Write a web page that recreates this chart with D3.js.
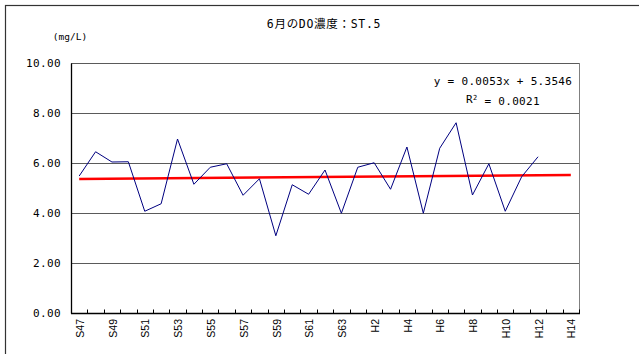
<!DOCTYPE html>
<html><head><meta charset="utf-8">
<script src="https://cdn.jsdelivr.net/npm/d3@7"></script>
<style>
html,body{margin:0;padding:0;background:#fff;}
svg{display:block;}
</style></head>
<body>
<svg id="chart" width="639" height="354"></svg>
<script>
const title = "6月のDO濃度：ST.5";
const unitLabel = "(mg/L)";
const categories = ["S47","S48","S49","S50","S51","S52","S53","S54","S55","S56","S57","S58","S59","S60","S61","S62","S63",
  "H1","H2","H3","H4","H5","H6","H7","H8","H9","H10","H11","H12","H13","H14"];
const tickLabels = ["S47","S49","S51","S53","S55","S57","S59","S61","S63","H2","H4","H6","H8","H10","H12","H14"];
const doValues = [5.48,6.45,6.04,6.05,4.07,4.37,6.96,5.15,5.83,5.97,4.71,5.37,3.09,5.13,4.75,5.72,3.99,
  5.83,6.01,4.95,6.64,3.99,6.59,7.61,4.72,5.97,4.07,5.45,6.25];
const yTicks = [0,2,4,6,8,10];
const trendSlope = 0.0053;
const trendIntercept = 5.3546;
const trendR2 = 0.0021;

const svg = d3.select("#chart");
const L = 71, R = 579, T = 63, B = 313;

// outer chart border
svg.append("rect").attr("x",5.5).attr("y",5.5).attr("width",700).attr("height",400)
  .attr("fill","none").attr("stroke","#333").attr("stroke-width",1.2);

const x = d3.scaleBand().domain(categories).range([L,R]).paddingInner(0).paddingOuter(0);
const y = d3.scaleLinear().domain([0,10]).range([B,T]);
const cx = c => x(c) + x.bandwidth()/2;

// gridlines
svg.append("g").selectAll("line").data(yTicks.filter(v=>v>0)).join("line")
  .attr("x1",L).attr("x2",R).attr("y1",d=>Math.round(y(d))+0.5).attr("y2",d=>Math.round(y(d))+0.5)
  .attr("stroke","#5a5a5a").attr("stroke-width",1);
// right border of plot
svg.append("line").attr("x1",R+0.5).attr("x2",R+0.5).attr("y1",T).attr("y2",B)
  .attr("stroke","#808080").attr("stroke-width",1);

// y axis
const yAxis = d3.axisLeft(y).tickValues(yTicks).tickSize(0).tickPadding(10).tickFormat(d3.format(".2f"));
const gy = svg.append("g").attr("transform",`translate(${L},0)`).call(yAxis);
gy.select(".domain").attr("stroke","#000").attr("stroke-width",1.3);
gy.selectAll("text").attr("font-family","'DejaVu Sans Mono','Liberation Mono',monospace")
  .attr("font-size","11px").attr("letter-spacing","0.4px").attr("fill","#000");

// x axis ticks at boundaries
const boundaries = d3.range(categories.length+1).map(i => L + i*x.step());
svg.append("g").selectAll("line").data(boundaries).join("line")
  .attr("x1",d=>Math.round(d)+0.5).attr("x2",d=>Math.round(d)+0.5).attr("y1",B).attr("y2",B-3.5)
  .attr("stroke","#000").attr("stroke-width",1);
svg.append("line").attr("x1",L).attr("x2",R+1).attr("y1",B+0.5).attr("y2",B+0.5)
  .attr("stroke","#000").attr("stroke-width",1.3);

// x labels
svg.append("g").selectAll("text").data(tickLabels).join("text")
  .attr("transform",d=>`translate(${cx(d)+1},319) rotate(-90)`)
  .attr("text-anchor","end").attr("dy","0.35em")
  .attr("font-family","'Liberation Sans',Arial,sans-serif").attr("font-size","10.5px").attr("fill","#000")
  .text(d=>d);

// trend line
const trendPts = [0, categories.length-1].map(i => ({c:categories[i], v: trendSlope*(i+1)+trendIntercept}));
svg.append("line")
  .attr("x1",cx(trendPts[0].c)).attr("y1",y(trendPts[0].v))
  .attr("x2",cx(trendPts[1].c)).attr("y2",y(trendPts[1].v))
  .attr("stroke","#ff0000").attr("stroke-width",2.5);

// data line
const line = d3.line().x((d,i)=>cx(categories[i])).y(d=>y(d));
svg.append("path").datum(doValues).attr("d",line)
  .attr("fill","none").attr("stroke","#000080").attr("stroke-width",1);

// title
svg.append("text").attr("x",324).attr("y",24).attr("dy","0.35em").attr("text-anchor","middle")
  .attr("font-family","'DejaVu Sans Mono','Noto Sans CJK JP',monospace").attr("font-size","11.5px")
  .attr("letter-spacing","0.7px").attr("fill","#000").text(title);

// unit label
svg.append("text").attr("x",70).attr("y",37).attr("dy","0.35em").attr("text-anchor","middle")
  .attr("font-family","'DejaVu Sans Mono',monospace").attr("font-size","9.5px").attr("fill","#000").text(unitLabel);

// equation
const eqFont = "'DejaVu Sans Mono','Liberation Mono',monospace";
svg.append("text").attr("x",503).attr("y",81).attr("dy","0.35em").attr("text-anchor","middle")
  .attr("font-family",eqFont).attr("font-size","11px").attr("letter-spacing","0.3px").attr("fill","#000")
  .text(`y = ${trendSlope.toFixed(4)}x + ${trendIntercept.toFixed(4)}`);
const r2 = svg.append("text").attr("x",503).attr("y",99).attr("dy","0.35em").attr("text-anchor","middle")
  .attr("font-family",eqFont).attr("font-size","11px").attr("letter-spacing","0.3px").attr("fill","#000");
r2.append("tspan").text("R");
r2.append("tspan").attr("dy","-0.45em").attr("font-size","7px").text("2");
r2.append("tspan").attr("dy","0.45em").text(` = ${trendR2.toFixed(4)}`);
</script>
</body></html>
